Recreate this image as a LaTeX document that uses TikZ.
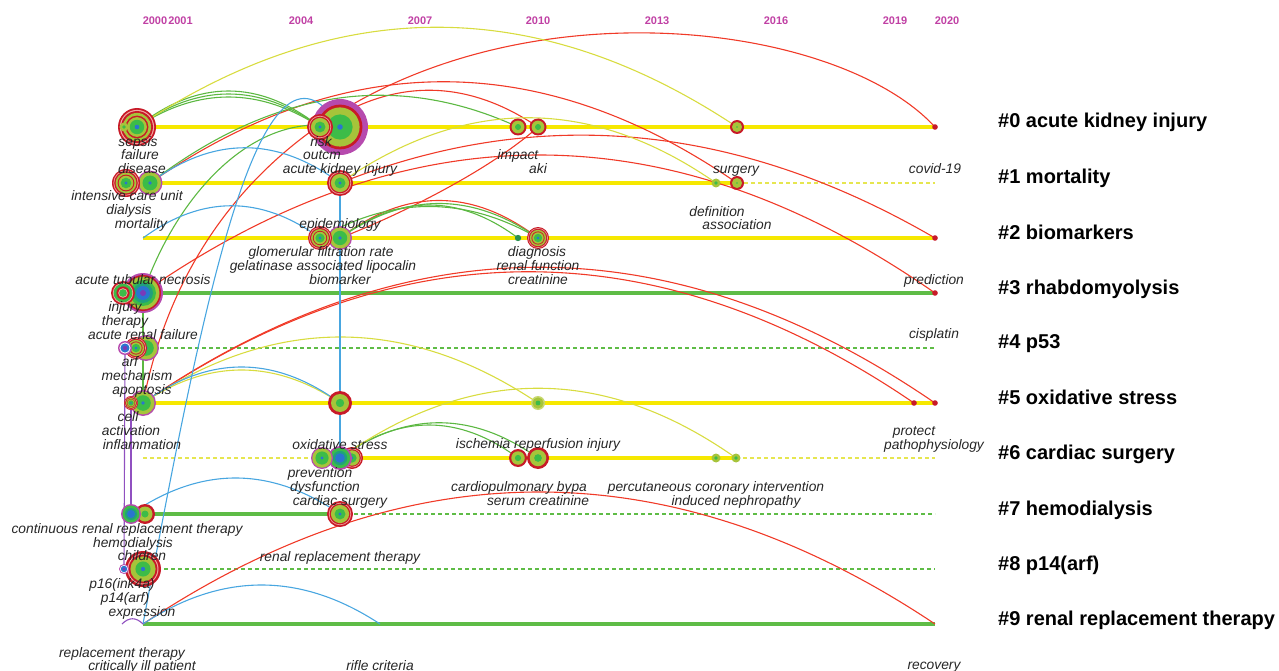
\documentclass[tikz,border=0pt]{standalone}
\usepackage{fontspec}
\setmainfont{Liberation Sans}
\usetikzlibrary{calc}

% ring and line colours
\definecolor{cPur}{HTML}{B64AAE}
\definecolor{cRed}{HTML}{C81A28}
\definecolor{cPnk}{HTML}{F2A8A0}
\definecolor{cOli}{HTML}{A6C43A}
\definecolor{cOliL}{HTML}{C8D870}
\definecolor{cGrn}{HTML}{3CBC48}
\definecolor{cTeal}{HTML}{20A07C}
\definecolor{cBlu}{HTML}{2A74D0}
\definecolor{cVio}{HTML}{7A3AB8}
\definecolor{cDk}{HTML}{2A9050}
\definecolor{tlY}{HTML}{F6E800}
\definecolor{tlYd}{HTML}{E6E650}
\definecolor{tlG}{HTML}{5EBC46}
\definecolor{eRc}{HTML}{F03A28}
\definecolor{eGc}{HTML}{5CB842}
\definecolor{eYc}{HTML}{D8DC40}
\definecolor{eBc}{HTML}{48A6E0}
\definecolor{ePc}{HTML}{9050C0}
\definecolor{labgray}{HTML}{262626}
\definecolor{yrpink}{HTML}{C040A4}

\newcommand\labfont{\itshape\fontsize{13.8}{14}\selectfont}
\newcommand\yrfont{\bfseries\fontsize{11}{12}\selectfont}
\newcommand\clfont{\bfseries\fontsize{20}{22}\selectfont}

% ring sets: radius fraction / colour, outermost first
\def\rBig{1/cPur,0.8/cRed,0.7/cOli,0.45/cGrn,0.1/cBlu}
\def\rRed{1/cRed,0.86/cPnk,0.8/cRed,0.7/cOli,0.42/cGrn,0.12/cBlu}
\def\rRedG{1/cRed,0.75/cOli,0.35/cGrn}
\def\rRedO{1/cRed,0.72/cOli,0.12/cGrn}
\def\rMulti{1/cRed,0.9/cPnk,0.84/cRed,0.74/cOli,0.6/cRed,0.52/cOli,0.38/cGrn,0.12/cBlu}
\def\rMultiB{1/cRed,0.85/cPnk,0.78/cGrn,0.55/cRed,0.4/cPnk,0.32/cGrn}
\def\rPur{1/cPur,0.88/cOli,0.6/cGrn,0.15/cBlu}
\def\rPurB{1/cPur,0.85/cGrn,0.6/cTeal,0.4/cBlu}
\def\rBigB{1/cPur,0.9/cRed,0.82/cOli,0.65/cGrn,0.5/cTeal,0.35/cBlu,0.15/cVio}
\def\rBlu{1/cPur,0.8/white,0.65/cBlu,0.3/cVio}
\def\rOli{1/cOli,0.4/cGrn}
\def\rOliE{1/cOliL,0.8/cOli,0.35/cGrn}
\def\rDot{1/cRed}
\def\rDk{1/cDk}

% a keyword: concentric rings plus a named node on top
\newcommand\kwnode[5]{%
  \foreach \f/\c in #5 {\fill[\c] (#2,#3) circle ({\f*#4pt});}
  \node[circle,inner sep=0pt,minimum size=2*#4pt] (#1) at (#2,#3) {};
}
% an arched link between two keywords
\newcommand\kwlink[4][]{%
  \draw[#1] (#2.center) .. controls ($(#2.center)!0.333!(#3.center)+(0,-#4)$)
    and ($(#2.center)!0.667!(#3.center)+(0,-#4)$) .. (#3.center);}
\newcommand\klab[4]{\node[lab] (#1) at (#2,#3) {#4};}

\pgfdeclarelayer{tl}
\pgfdeclarelayer{edges}
\pgfsetlayers{tl,edges,main}

\begin{document}
\begin{tikzpicture}[x=1pt,y=-1pt,
  lab/.style={font=\labfont,text=labgray,inner sep=0pt,anchor=base,yshift=-1.5pt},
  yr/.style={font=\yrfont,text=yrpink,inner sep=0pt,anchor=base},
  cl/.style={font=\clfont,text=black,inner sep=0pt,anchor=base west},
  lineY/.style={draw=tlY,line width=4pt},
  lineYd/.style={draw=tlYd,line width=1.6pt,dash pattern=on 4pt off 3pt},
  lineG/.style={draw=tlG,line width=3.4pt},
  lineGd/.style={draw=tlG,line width=1.6pt,dash pattern=on 4pt off 3pt},
  eR/.style={draw=eRc,line width=1.1pt},
  eG/.style={draw=eGc,line width=1.1pt},
  eY/.style={draw=eYc,line width=1.1pt},
  eB/.style={draw=eBc,line width=1.1pt},
  eP/.style={draw=ePc,line width=1.1pt}]

\useasboundingbox (0,0) rectangle (1279,671);

% ---- years ----
\node[yr] (y2000) at (155,25) {2000};
\node[yr] (y2001) at (180.5,25) {2001};
\node[yr] (y2004) at (301,25) {2004};
\node[yr] (y2007) at (420,25) {2007};
\node[yr] (y2010) at (538,25) {2010};
\node[yr] (y2013) at (657,25) {2013};
\node[yr] (y2016) at (776,25) {2016};
\node[yr] (y2019) at (895,25) {2019};
\node[yr] (y2020) at (947,25) {2020};

% ---- keyword nodes, row by row ----
% #0
\kwnode{n0c}{340}{127}{28}{\rBig}
\kwnode{n0b}{320}{127}{13}{\rRed}
\kwnode{n0a}{137}{127}{19}{\rMulti}
\kwnode{n0h}{124}{127}{4.5}{\rOli}
\kwnode{n0d}{518}{127}{8.5}{\rRedG}
\kwnode{n0e}{538}{127}{8.5}{\rRedG}
\kwnode{n0f}{737}{127}{7}{\rRedO}
\kwnode{n0g}{935}{127}{2.8}{\rDot}
% #1
\kwnode{n1b}{150}{183}{12.5}{\rPur}
\kwnode{n1a}{126}{183}{14}{\rMulti}
\kwnode{n1c}{340}{183}{13}{\rRed}
\kwnode{n1d}{716}{183}{4.5}{\rOli}
\kwnode{n1e}{737}{183}{7}{\rRedO}
\coordinate (t1e) at (935,183);
% #2
\coordinate (n2s) at (143,238);
\kwnode{n2b}{340}{238}{12}{\rPur}
\kwnode{n2a}{320}{238}{12}{\rMulti}
\kwnode{n2c}{518}{238}{3.2}{\rDk}
\kwnode{n2d}{538}{238}{11}{\rMulti}
\kwnode{n2e}{935}{238}{2.8}{\rDot}
% #3
\kwnode{n3b}{143}{293}{20}{\rBigB}
\kwnode{n3a}{123}{293}{12}{\rMultiB}
\kwnode{n3e}{935}{293}{2.8}{\rDot}
% #4
\kwnode{n4c}{146}{348}{13}{\rPur}
\kwnode{n4b}{136}{348}{11}{\rMulti}
\kwnode{n4a}{125}{348}{7}{\rBlu}
\coordinate (t4e) at (935,348);
% #5
\kwnode{n5b}{143}{403}{13}{\rPur}
\kwnode{n5a}{131}{403}{7}{\rMulti}
\kwnode{n5c}{340}{403}{12}{\rRedG}
\kwnode{n5d}{538}{403}{7}{\rOliE}
\kwnode{n5e}{914}{403}{2.8}{\rDot}
\kwnode{n5f}{935}{403}{2.8}{\rDot}
% #6
\coordinate (t6s) at (143,458);
\kwnode{n6c}{352}{458}{11}{\rRed}
\kwnode{n6b}{340}{458}{12}{\rPurB}
\kwnode{n6a}{322}{458}{11}{\rPur}
\kwnode{n6d}{518}{458}{9}{\rRedG}
\kwnode{n6e}{538}{458}{11}{\rRedG}
\kwnode{n6f}{716}{458}{4.5}{\rOli}
\kwnode{n6g}{736}{458}{4.5}{\rOli}
\coordinate (t6e) at (935,458);
% #7
\kwnode{n7b}{145}{514}{10}{\rRedG}
\kwnode{n7a}{131}{514}{10}{\rPurB}
\kwnode{n7c}{340}{514}{13}{\rRed}
\coordinate (t7e) at (935,514);
% #8
\kwnode{n8b}{143}{569}{18}{\rRed}
\kwnode{n8a}{124}{569}{5}{\rBlu}
\coordinate (t8e) at (935,569);
% #9
\coordinate (n9l) at (122,624);
\coordinate (n9s) at (143,624);
\coordinate (n9r) at (380,624);
\coordinate (n9e) at (935,624);

% ---- timelines ----
\begin{pgfonlayer}{tl}
\draw[lineY] (n0a.center) -- (n0g.center);
\draw[lineY] (n1a.center) -- (n1e.center);
\draw[lineYd] (n1e.center) -- (t1e);
\draw[lineY] (n2s) -- (n2e.center);
\draw[lineG] (n3b.center) -- (n3e.center);
\draw[lineGd] (n4c.center) -- (t4e);
\draw[lineY] (n5b.center) -- (n5f.center);
\draw[lineYd] (t6s) -- (n6a.center);
\draw[lineY] (n6b.center) -- (n6g.center);
\draw[lineYd] (n6g.center) -- (t6e);
\draw[lineG] (n7b.center) -- (n7c.center);
\draw[lineGd] (n7c.center) -- (t7e);
\draw[lineGd] (n8b.center) -- (t8e);
\draw[lineG] (n9s) -- (n9e);
\end{pgfonlayer}

% ---- co-occurrence links ----
\begin{pgfonlayer}{edges}
% red
\draw[eR] (n5b.center) .. controls (230,-40) and (800,-20) .. (n0g.center);
\kwlink[eR]{n1b}{n1e}{135}
\kwlink[eR]{n0b}{n0e}{49}
\kwlink[eR]{n1c}{n2e}{97}
\kwlink[eR]{n3b}{n3e}{184}
\kwlink[eR]{n5b}{n5e}{175}
\kwlink[eR]{n5b}{n5f}{181}
\kwlink[eR]{n9s}{n9e}{176}
\draw[eR] (n2b.center) .. controls (400,215) and (490,170) .. (n0e.center);
\kwlink[eR]{n2b}{n2d}{50}
% green
\kwlink[eG]{n0a}{n0b}{40}
\kwlink[eG]{n0a}{n0b}{44}
\kwlink[eG]{n0a}{n0b}{48}
\kwlink[eG]{n1b}{n0d}{75}
\draw[eG] (n3b.center) .. controls (175,200) and (250,110) .. (n0c.center);
\draw[eG] (n3b.center) -- (n5b.center);
\kwlink[eG]{n2b}{n2c}{44}
\kwlink[eG]{n2b}{n2d}{46}
\kwlink[eG]{n2a}{n2d}{42}
\kwlink[eG]{n6b}{n6d}{44}
\kwlink[eG]{n6b}{n6e}{47}
% yellow
\kwlink[eY]{n0a}{n0f}{133}
\kwlink[eY]{n1c}{n1d}{87}
\kwlink[eY]{n5b}{n5d}{88}
\kwlink[eY]{n5b}{n5c}{44}
\kwlink[eY]{n6b}{n6g}{93}
% blue
\kwlink[eB]{n1b}{n1c}{47}
\kwlink[eB]{n2s}{n2a}{43}
\draw[eB] (n9s) .. controls (200,320) and (260,0) .. (n0c.center);
\draw[eB] (n1c.center) -- (n6b.center);
\kwlink[eB]{n7a}{n7c}{48}
\kwlink[eB]{n5b}{n5c}{48}
\kwlink[eB]{n9s}{n9r}{52}
% purple
\draw[eP] (n4a.center) -- (n8a.center);
\draw[eP] (n5a.center) -- (n7a.center);
\kwlink[eP]{n9l}{n9s}{7}
\end{pgfonlayer}

% ---- keyword labels ----
\klab{l0a}{138}{145}{sepsis}
\klab{l0b}{140}{158}{failure}
\klab{l0c}{142}{172.5}{disease}
\klab{l0d}{321}{145}{risk}
\klab{l0e}{322}{158.5}{outcm}
\klab{l0f}{340}{172}{acute kidney injury}
\klab{l0g}{518}{158}{impact}
\klab{l0h}{538}{172}{aki}
\klab{l0i}{736}{172}{surgery}
\klab{l0j}{935}{172.5}{covid-19}

\klab{l1a}{127}{199}{intensive care unit}
\klab{l1b}{129}{213}{dialysis}
\klab{l1c}{141}{226.5}{mortality}
\klab{l1d}{340}{226.5}{epidemiology}
\klab{l1e}{717}{215}{definition}
\klab{l1f}{737}{228}{association}

\klab{l2a}{321}{255}{glomerular filtration rate}
\klab{l2b}{323}{269}{gelatinase associated lipocalin}
\klab{l2c}{340}{282.5}{biomarker}
\klab{l2d}{537}{255}{diagnosis}
\klab{l2e}{538}{269}{renal function}
\klab{l2f}{538}{282.5}{creatinine}
\klab{l2g}{143}{282.5}{acute tubular necrosis}
\klab{l2h}{934}{283}{prediction}

\klab{l3a}{125}{310}{injury}
\klab{l3b}{125}{324}{therapy}
\klab{l3c}{143}{338}{acute renal failure}
\klab{l3d}{934}{337}{cisplatin}

\klab{l4a}{130}{365}{arf}
\klab{l4b}{137}{379}{mechanism}
\klab{l4c}{142}{393}{apoptosis}

\klab{l5a}{128}{420}{cell}
\klab{l5b}{131}{434}{activation}
\klab{l5c}{142}{448}{inflammation}
\klab{l5d}{340}{448}{oxidative stress}
\klab{l5e}{538}{447}{ischemia reperfusion injury}
\klab{l5f}{914}{434}{protect}
\klab{l5g}{934}{448}{pathophysiology}

\klab{l6a}{320}{476}{prevention}
\klab{l6b}{325}{490}{dysfunction}
\klab{l6c}{340}{504}{cardiac surgery}
\klab{l6d}{519}{490}{cardiopulmonary bypa}
\klab{l6e}{538}{504}{serum creatinine}
\klab{l6f}{716}{490}{percutaneous coronary intervention}
\klab{l6g}{736}{504}{induced nephropathy}

\klab{l7a}{127}{532}{continuous renal replacement therapy}
\klab{l7b}{133}{546}{hemodialysis}
\klab{l7c}{142}{559}{children}
\klab{l7d}{340}{560}{renal replacement therapy}

\klab{l8a}{122}{587}{p16(ink4a)}
\klab{l8b}{125}{601}{p14(arf)}
\klab{l8c}{142}{615}{expression}

\klab{l9a}{122}{656}{replacement therapy}
\klab{l9b}{142}{669}{critically ill patient}
\klab{l9c}{380}{669}{rifle criteria}
\klab{l9d}{934}{668}{recovery}

% ---- cluster labels ----
\node[cl] (c0) at (998,128) {\#0 acute kidney injury};
\node[cl] (c1) at (998,184) {\#1 mortality};
\node[cl] (c2) at (998,239) {\#2 biomarkers};
\node[cl] (c3) at (998,294) {\#3 rhabdomyolysis};
\node[cl] (c4) at (998,348) {\#4 p53};
\node[cl] (c5) at (998,404) {\#5 oxidative stress};
\node[cl] (c6) at (998,459) {\#6 cardiac surgery};
\node[cl] (c7) at (998,515) {\#7 hemodialysis};
\node[cl] (c8) at (998,570) {\#8 p14(arf)};
\node[cl] (c9) at (998,625) {\#9 renal replacement therapy};
\end{tikzpicture}
\end{document}
